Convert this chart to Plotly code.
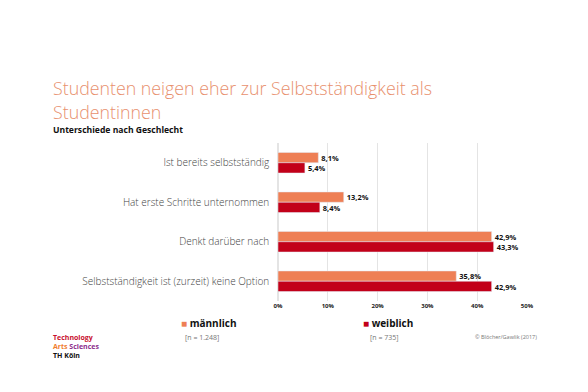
import plotly.graph_objects as go

categories = ["Ist bereits selbstständig", "Hat erste Schritte unternommen",
              "Denkt darüber nach", "Selbstständigkeit ist (zurzeit) keine Option"]
maennlich = [8.1, 13.2, 42.9, 35.8]
weiblich = [5.4, 8.4, 43.3, 42.9]
tick_vals = [0, 10, 20, 30, 40, 50]
tick_text = ["0%", "10%", "20%", "30%", "40%", "50%"]

ORANGE = "#EE7F55"
RED = "#C20019"
FONT = "Open Sans"

def fmt(v):
    return f"{v:.1f}".replace(".", ",") + "%"

fig = go.Figure()
fig.add_trace(go.Bar(y=categories, x=maennlich, orientation="h", name="männlich",
                     marker_color=ORANGE, text=[fmt(v) for v in maennlich],
                     textposition="outside", cliponaxis=False,
                     textfont=dict(family=FONT, size=8, color="#111", weight="bold")))
fig.add_trace(go.Bar(y=categories, x=weiblich, orientation="h", name="weiblich",
                     marker_color=RED, text=[fmt(v) for v in weiblich],
                     textposition="outside", cliponaxis=False,
                     textfont=dict(family=FONT, size=8, color="#111", weight="bold")))

# page has an 8px body margin; work in page pixel coordinates
OFF = 8
W, H = 588 - OFF, 392 - OFF
PL, PR, PT, PB = 278, 527, 143, 301   # plot area in page pixels
L, R, T, B = PL - OFF, W - (PR - OFF), PT - OFF, H - (PB - OFF)
pw = PR - PL
ph = PB - PT

def px(x):
    return (x - PL) / pw

def py(y):
    return 1 - (y - PT) / ph

fig.update_layout(
    width=W, height=H,
    margin=dict(l=L, r=R, t=T, b=B),
    paper_bgcolor="white", plot_bgcolor="white",
    barmode="group", bargap=0.48, bargroupgap=0,
    showlegend=False,
    font=dict(family=FONT),
    xaxis=dict(range=[0, 50], tickvals=tick_vals, ticktext=tick_text,
               showgrid=True, gridcolor="#E4E4E4", gridwidth=1,
               zeroline=True, zerolinecolor="#E4E4E4",
               tickfont=dict(family=FONT, size=6, color="#222", weight="bold"),
               ticks="", fixedrange=True),
    yaxis=dict(autorange="reversed", showgrid=False, ticks="",
               tickfont=dict(family=FONT, size=10, color="#444", weight=300),
               ticksuffix="   ", fixedrange=True),
)

def note(text, x, y, size, color="#111", xanchor="left", weight=None):
    f = dict(family=FONT, size=size, color=color)
    if weight is not None:
        f["weight"] = weight
    return dict(text=text, x=px(x), y=py(y), xref="paper", yref="paper",
                xanchor=xanchor, yanchor="middle", showarrow=False, font=f)

TITLE_C = "#E8906E"
ann = [
    note("Studenten neigen eher zur Selbstständigkeit als", 51, 88, 17.8, TITLE_C, weight=300),
    note("Studentinnen", 51, 112, 17.8, TITLE_C, weight=300),
    note("<b>Unterschiede nach Geschlecht</b>", 51, 130, 8.6),
    note(f"<span style='color:{ORANGE}'>■</span> <b>männlich</b>", 179, 323, 10),
    note("[n = 1.248]", 202, 337, 7, "#777", "center"),
    note(f"<span style='color:{RED}'>■</span> <b>weiblich</b>", 361, 323, 10),
    note("[n = 735]", 384, 337, 7, "#777", "center"),
    note("© Blöcher/Gawlik (2017)", 506, 337, 5.5, "#777", "center"),
    note("<b>Technology</b>", 51, 337, 7, "#C8102E"),
    note("<b><span style='color:#F07D2E'>Arts</span> <span style='color:#8C2E8C'>Sciences</span></b>", 51, 346, 7),
    note("<b>TH Köln</b>", 51, 355.5, 7),
]
fig.update_layout(annotations=ann)

fig.write_html("out.html")
